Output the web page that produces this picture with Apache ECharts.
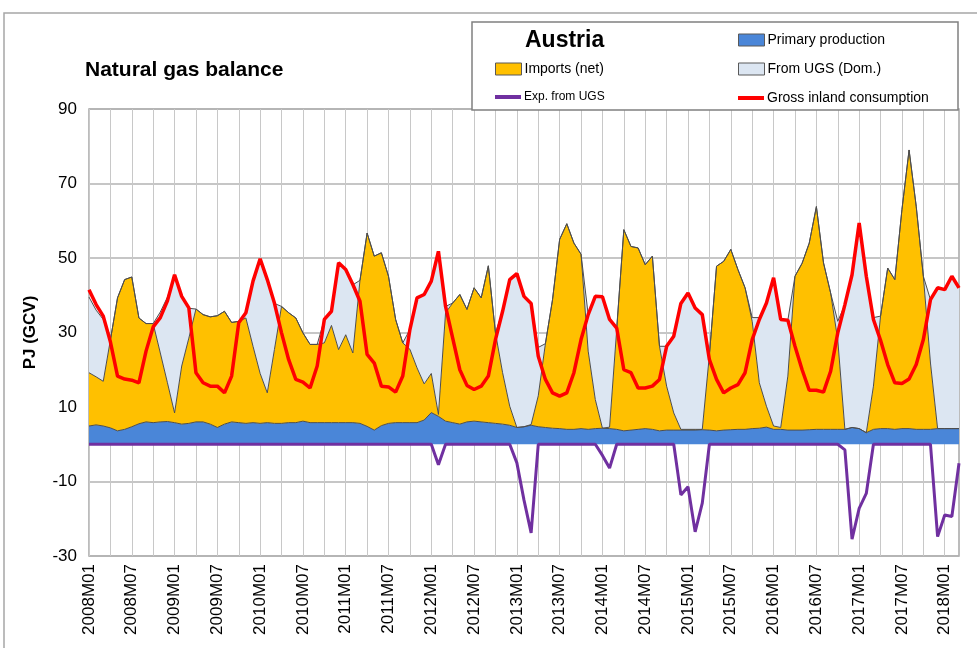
<!DOCTYPE html>
<html>
<head>
<meta charset="utf-8">
<script src="https://cdn.jsdelivr.net/npm/echarts@6/dist/echarts.min.js"></script>
<style>
  html, body { margin: 0; padding: 0; background: #fff; }
  #chart { width: 977px; height: 648px; }
</style>
</head>
<body>
<div id="chart"></div>
<script>
  // monthly labels 2008M01 .. 2018M03
  const months = [];
  for (let y = 2008; y <= 2018; y++) {
    for (let m = 1; m <= 12; m++) {
      if (y === 2018 && m > 3) break;
      months.push(y + 'M' + (m < 10 ? '0' + m : m));
    }
  }

  const yTicks = { min: -30, max: 90, step: 20 };

  // PJ (GCV)
  const primary = [
    4.9, 5.2, 4.9, 4.4, 3.6, 4.0, 4.7, 5.5, 6.0, 5.8,
    6.0, 6.1, 5.8, 5.4, 5.6, 6.0, 6.0, 5.4, 4.5, 5.4,
    6.0, 5.8, 5.6, 5.8, 5.6, 5.8, 5.6, 5.6, 5.8, 5.8,
    6.2, 5.8, 5.8, 5.8, 5.8, 5.8, 5.8, 5.8, 5.6, 4.8,
    3.8, 5.0, 5.6, 5.8, 5.8, 5.8, 5.8, 6.5, 8.5, 7.5,
    6.2, 5.8, 5.4, 6.0, 6.2, 6.0, 5.8, 5.6, 5.4, 5.1,
    4.5, 4.7, 5.1, 4.7, 4.5, 4.3, 4.2, 4.0, 4.0, 4.2,
    4.0, 4.2, 4.3, 4.2, 4.0, 3.6, 3.8, 4.0, 4.2, 4.0,
    3.6, 3.8, 3.8, 3.8, 3.8, 3.8, 3.9, 3.8, 3.6, 3.8,
    3.9, 4.0, 4.0, 4.2, 4.3, 4.6, 4.0, 4.0, 3.8, 3.8,
    3.8, 3.9, 4.0, 4.0, 4.0, 4.0, 4.0, 4.5, 4.2, 3.1,
    4.0, 4.2, 4.2, 4.0, 4.2, 4.2, 4.0, 4.0, 4.0, 4.2,
    4.2, 4.2, 4.2
  ];

  const imports = [
    14.3, 12.9, 12.0, 23.6, 35.7, 40.2, 40.2, 28.4, 26.4, 26.6,
    18.5, 10.4, 2.6, 15.6, 22.9, 30.3, 28.8, 28.8, 30.0, 30.3,
    26.7, 27.2, 28.3, 20.5, 13.4, 8.0, 19.8, 31.4, 29.5, 28.1,
    23.7, 21.0, 21.0, 21.4, 26.1, 19.6, 23.6, 18.7, 38.4, 51.9,
    46.7, 46.4, 39.5, 27.7, 21.4, 19.7, 14.7, 9.7, 10.5, 0.5,
    29.1, 32.1, 34.8, 30.2, 35.8, 33.3, 42.1, 24.3, 13.8, 5.1,
    0, 0, 0.2, 8.3, 22.5, 34.5, 50.8, 55.2, 50.0, 46.8,
    21.0, 7.8, 0, 0.4, 26.8, 54.0, 49.3, 48.7, 44.0, 46.5,
    22.7, 11.8, 4.6, 0.2, 0.2, 0.2, 0.1, 20.2, 44.2, 45.3,
    48.4, 42.9, 38.0, 28.8, 12.2, 5.6, 0.9, 0.5, 14.5, 41.3,
    44.8, 50.1, 59.8, 44.7, 36.6, 24.0, 0, 0, 0, 0,
    11.6, 30.2, 43.1, 40.2, 58.8, 74.8, 59.9, 41.1, 17.8, 0,
    0, 0, 0
  ];

  const fromUgs = [
    20.3, 17.9, 16.6, 0, 0, 0, 0, 0, 0, 0,
    11.0, 23.0, 36.6, 18.5, 8.0, 0, 0, 0, 0, 0,
    0, 0, 1.6, 17.2, 30.5, 30.2, 12.4, 0, 0, 0,
    0, 0, 0, 6.3, 3.8, 23.1, 17.4, 18.3, 0, 0,
    0, 0, 0, 0, 0, 5.3, 18.8, 24.0, 24.8, 43.5,
    1.7, 0, 0, 0, 0, 0, 0, 0, 16.5, 33.8,
    41.0, 34.8, 32.5, 13.0, 0, 0, 0, 0, 0, 0,
    9.8, 27.5, 35.2, 28.9, 0.4, 0, 0, 0, 0, 0,
    0, 10.7, 20.6, 33.8, 36.5, 32.5, 30.8, 0, 0, 0,
    0, 0, 0, 1.0, 17.5, 27.8, 39.6, 29.0, 15.0, 0,
    0, 0, 0, 0, 0, 5.0, 33.5, 41.0, 55.1, 41.9,
    18.4, 0, 0, 0, 0, 0, 0, 0, 17.0, 37.8,
    37.3, 40.8, 37.8
  ];

  const expToUgs = [
    0, 0, 0, 0, 0, 0, 0, 0, 0, 0,
    0, 0, 0, 0, 0, 0, 0, 0, 0, 0,
    0, 0, 0, 0, 0, 0, 0, 0, 0, 0,
    0, 0, 0, 0, 0, 0, 0, 0, 0, 0,
    0, 0, 0, 0, 0, 0, 0, 0, 0, -5.5,
    0, 0, 0, 0, 0, 0, 0, 0, 0, 0,
    -5.0, -15.0, -23.8, 0, 0, 0, 0, 0, 0, 0,
    0, 0, -3.0, -6.4, 0, 0, 0, 0, 0, 0,
    0, 0, 0, -13.6, -11.4, -23.5, -15.8, 0, 0, 0,
    0, 0, 0, 0, 0, 0, 0, 0, 0, 0,
    0, 0, 0, 0, 0, 0, -1.5, -25.5, -17.2, -13.2,
    0, 0, 0, 0, 0, 0, 0, 0, 0, -24.8,
    -19.0, -19.4, -5.1
  ];

  const grossInland = [
    41.5, 37.5, 34.4, 27.5, 18.3, 17.5, 17.2, 16.5, 25.0, 31.5,
    34.0, 38.5, 45.5, 39.7, 36.6, 19.2, 16.5, 15.6, 15.6, 13.8,
    18.3, 32.6, 35.3, 43.8, 49.8, 44.2, 37.9, 29.9, 22.7, 17.4,
    16.7, 15.1, 21.0, 33.5, 35.7, 48.7, 46.9, 42.9, 38.4, 24.1,
    21.8, 15.6, 15.4, 14.0, 18.3, 30.8, 39.3, 40.2, 43.8, 51.8,
    37.0, 28.5, 20.0, 15.8, 14.7, 15.6, 18.3, 28.1, 35.7, 44.2,
    45.8, 39.7, 37.8, 23.6, 17.4, 13.8, 12.9, 13.8, 19.2, 28.1,
    34.8, 39.7, 39.6, 33.5, 31.2, 20.0, 19.2, 15.1, 15.1, 15.6,
    17.4, 26.3, 29.0, 37.8, 40.6, 36.6, 34.8, 22.7, 17.4, 13.8,
    15.1, 16.0, 19.2, 28.1, 33.5, 37.9, 44.7, 33.5, 33.3, 26.3,
    20.0, 14.5, 14.5, 14.0, 19.6, 29.9, 37.5, 45.5, 59.4, 45.1,
    33.5, 27.9, 21.4, 16.5, 16.3, 17.5, 21.4, 28.1, 38.8, 42.0,
    41.5, 45.1, 42.0
  ];

  const FONT = '"Liberation Sans", Arial, sans-serif';
  const outline = { color: '#4d4d4d', width: 1 };

  function legendAt(name, left, top, icon, h, color, border) {
    return {
      show: true, left: left, top: top, padding: 0, z: 60,
      itemWidth: 26, itemHeight: h, itemGap: 0,
      textStyle: { fontSize: name === 'Exp. from UGS' ? 12 : 14, color: '#000', fontFamily: FONT, padding: [0, 0, 0, -2] },
      selectedMode: false,
      data: [{
        name: name, icon: icon,
        itemStyle: { color: color, borderColor: border ? '#595959' : color, borderWidth: border ? 1 : 0 }
      }]
    };
  }

  const chart = echarts.init(document.getElementById('chart'));
  chart.setOption({
    animation: false,
    backgroundColor: '#fff',
    textStyle: { fontFamily: FONT },
    title: [
      { text: 'Natural gas balance', left: 85, top: 60, padding: 0, z: 60,
        textStyle: { fontSize: 21, fontWeight: 'bold', color: '#000', fontFamily: FONT } },
      { text: 'Austria', left: 525, top: 29, padding: 0, z: 60,
        textStyle: { fontSize: 23, fontWeight: 'bold', color: '#000', fontFamily: FONT } }
    ],
    graphic: [
      { type: 'rect', z: 1, silent: true, shape: { x: 4, y: 13, width: 1200, height: 1000 },
        style: { fill: 'none', stroke: '#a6a6a6', lineWidth: 1.5 } },
      { type: 'rect', z: 50, silent: true, shape: { x: 472, y: 22, width: 486, height: 88 },
        style: { fill: '#fff', stroke: '#808080', lineWidth: 1.5 } }
    ],
    legend: [
      legendAt('Primary production', 738, 33, 'rect', 12, '#4a86d8', true),
      legendAt('Imports (net)', 495, 62, 'rect', 12, '#ffc000', true),
      legendAt('From UGS (Dom.)', 738, 62, 'rect', 12, '#dce6f2', true),
      legendAt('Exp. from UGS', 495, 91, 'rect', 4, '#7030a0', false),
      legendAt('Gross inland consumption', 738, 91, 'rect', 4, '#ff0000', false)
    ],
    grid: {
      left: 89, top: 109, width: 870, height: 447,
      show: true, borderColor: '#a6a6a6', borderWidth: 1.5, backgroundColor: 'transparent'
    },
    xAxis: {
      type: 'category',
      data: months,
      boundaryGap: false,
      axisLine: { show: false, onZero: false },
      axisTick: { show: false },
      axisLabel: {
        interval: function (i) { return i % 6 === 0; },
        rotate: 90, fontSize: 17, color: '#000', margin: 8, fontFamily: FONT
      },
      splitLine: {
        show: true,
        interval: function (i) { return i % 3 === 0; },
        lineStyle: { color: '#c8c8c8', width: 1 }
      }
    },
    yAxis: {
      type: 'value',
      min: yTicks.min, max: yTicks.max, interval: yTicks.step,
      name: 'PJ (GCV)', nameLocation: 'middle', nameRotate: 90, nameGap: 50,
      nameTextStyle: { fontSize: 17, fontWeight: 'bold', color: '#000', fontFamily: FONT },
      axisLine: { show: false },
      axisTick: { show: false },
      axisLabel: { fontSize: 17, color: '#000', margin: 12, fontFamily: FONT },
      splitLine: { lineStyle: { color: '#b3b3b3', width: 1.5 } }
    },
    series: [
      { name: 'Primary production', type: 'line', stack: 'supply', data: primary,
        symbol: 'none', color: '#4a86d8', lineStyle: outline,
        areaStyle: { color: '#4a86d8', opacity: 1 } },
      { name: 'Imports (net)', type: 'line', stack: 'supply', data: imports,
        symbol: 'none', color: '#ffc000', lineStyle: outline,
        areaStyle: { color: '#ffc000', opacity: 1 } },
      { name: 'From UGS (Dom.)', type: 'line', stack: 'supply', data: fromUgs,
        symbol: 'none', color: '#dce6f2', lineStyle: outline,
        areaStyle: { color: '#dce6f2', opacity: 1 } },
      { name: 'Exp. from UGS', type: 'line', data: expToUgs,
        symbol: 'none', color: '#7030a0', lineStyle: { color: '#7030a0', width: 3 } },
      { name: 'Gross inland consumption', type: 'line', data: grossInland,
        symbol: 'none', color: '#ff0000', lineStyle: { color: '#ff0000', width: 3.5 } }
    ]
  });
</script>
</body>
</html>
